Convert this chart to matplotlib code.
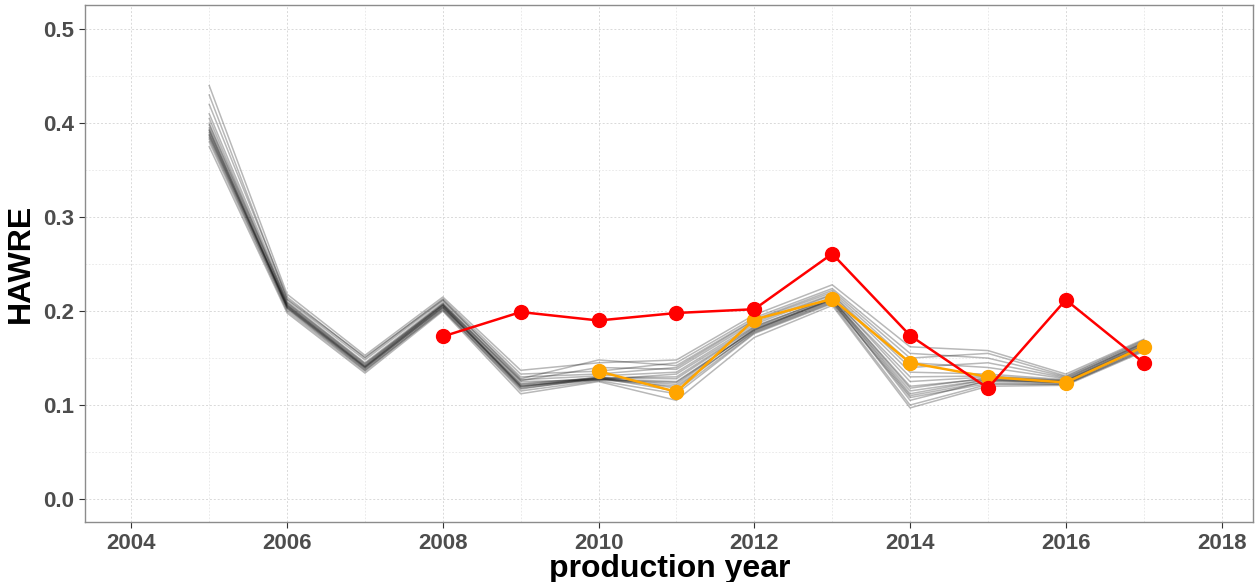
import matplotlib
matplotlib.use("Agg")
import matplotlib.pyplot as plt
from matplotlib.ticker import MultipleLocator

plt.rcParams['font.family'] = ['Liberation Sans', 'DejaVu Sans']

# ensemble runs (representative members), 2005-2017
ens_years = list(range(2005, 2018))
ens_runs = [
    [0.390, 0.205, 0.140, 0.205, 0.120, 0.128, 0.125, 0.180, 0.213, 0.120, 0.128, 0.125, 0.163],
    [0.385, 0.203, 0.138, 0.203, 0.118, 0.127, 0.120, 0.178, 0.210, 0.110, 0.125, 0.123, 0.160],
    [0.395, 0.207, 0.142, 0.207, 0.123, 0.129, 0.130, 0.183, 0.215, 0.125, 0.130, 0.126, 0.165],
    [0.380, 0.200, 0.136, 0.202, 0.115, 0.126, 0.112, 0.176, 0.208, 0.100, 0.122, 0.122, 0.158],
    [0.400, 0.210, 0.145, 0.209, 0.127, 0.131, 0.135, 0.186, 0.217, 0.135, 0.133, 0.127, 0.166],
    [0.410, 0.212, 0.148, 0.211, 0.130, 0.133, 0.140, 0.190, 0.220, 0.145, 0.140, 0.128, 0.167],
    [0.375, 0.198, 0.134, 0.200, 0.112, 0.125, 0.105, 0.172, 0.206, 0.097, 0.120, 0.121, 0.157],
    [0.420, 0.215, 0.150, 0.213, 0.133, 0.136, 0.145, 0.193, 0.224, 0.155, 0.150, 0.130, 0.168],
    [0.440, 0.218, 0.153, 0.215, 0.137, 0.145, 0.148, 0.196, 0.228, 0.162, 0.158, 0.133, 0.170],
    [0.392, 0.206, 0.141, 0.206, 0.121, 0.128, 0.122, 0.181, 0.212, 0.115, 0.127, 0.124, 0.162],
    [0.388, 0.204, 0.139, 0.204, 0.119, 0.130, 0.118, 0.179, 0.211, 0.105, 0.126, 0.124, 0.161],
    [0.398, 0.208, 0.143, 0.208, 0.125, 0.127, 0.133, 0.184, 0.214, 0.130, 0.131, 0.126, 0.164],
    [0.383, 0.202, 0.137, 0.201, 0.117, 0.129, 0.115, 0.177, 0.209, 0.108, 0.123, 0.122, 0.159],
    [0.393, 0.204, 0.140, 0.204, 0.122, 0.129, 0.128, 0.182, 0.213, 0.118, 0.129, 0.125, 0.163],
    [0.387, 0.206, 0.141, 0.206, 0.120, 0.127, 0.124, 0.180, 0.212, 0.112, 0.127, 0.124, 0.162],
    [0.405, 0.209, 0.144, 0.207, 0.126, 0.140, 0.138, 0.188, 0.218, 0.140, 0.145, 0.129, 0.166],
    [0.430, 0.213, 0.151, 0.212, 0.128, 0.148, 0.142, 0.191, 0.222, 0.150, 0.155, 0.131, 0.169],
]

obs_years = list(range(2008, 2018))
obs_vals = [0.173, 0.199, 0.190, 0.198, 0.202, 0.261, 0.174, 0.118, 0.212, 0.145]

est_years = list(range(2010, 2018))
est_vals = [0.136, 0.114, 0.191, 0.213, 0.145, 0.130, 0.124, 0.162]

fig, ax = plt.subplots(figsize=(12.56, 5.82), dpi=100)
fig.subplots_adjust(left=0.068, right=0.998, top=0.991, bottom=0.103)

for run in ens_runs:
    ax.plot(ens_years, run, color='black', alpha=0.28, lw=1.1, zorder=2)

ax.plot(obs_years, obs_vals, color='red', lw=1.8, marker='o', ms=10, zorder=4)
ax.plot(est_years, est_vals, color='orange', lw=1.8, marker='o', ms=10, zorder=3)

ax.set_xlim(2003.41, 2018.41)
ax.set_ylim(-0.0245, 0.5255)
ax.xaxis.set_major_locator(MultipleLocator(2))
ax.xaxis.set_minor_locator(MultipleLocator(1))
ax.yaxis.set_major_locator(MultipleLocator(0.1))
ax.yaxis.set_minor_locator(MultipleLocator(0.05))
ax.set_yticks([0.0, 0.1, 0.2, 0.3, 0.4, 0.5])
ax.set_yticklabels(['0.0', '0.1', '0.2', '0.3', '0.4', '0.5'])

ax.grid(which='major', color='#d9d9d9', ls=(0, (2, 2)), lw=0.7)
ax.grid(which='minor', color='#e6e6e6', ls=(0, (2, 2)), lw=0.6)
ax.set_axisbelow(True)

for s in ax.spines.values():
    s.set_color('#8c8c8c')
    s.set_linewidth(1.0)

ax.tick_params(which='major', length=4, color='#333333', labelsize=16,
               labelcolor='#4d4d4d', pad=4)
ax.tick_params(which='minor', length=0)
for lab in ax.get_xticklabels() + ax.get_yticklabels():
    lab.set_fontweight('bold')

ax.set_xlabel('production year', fontsize=23, fontweight='bold', labelpad=0)
ax.set_ylabel('HAWRE', fontsize=23, fontweight='bold', labelpad=5)

fig.savefig('out.png', dpi=100)
